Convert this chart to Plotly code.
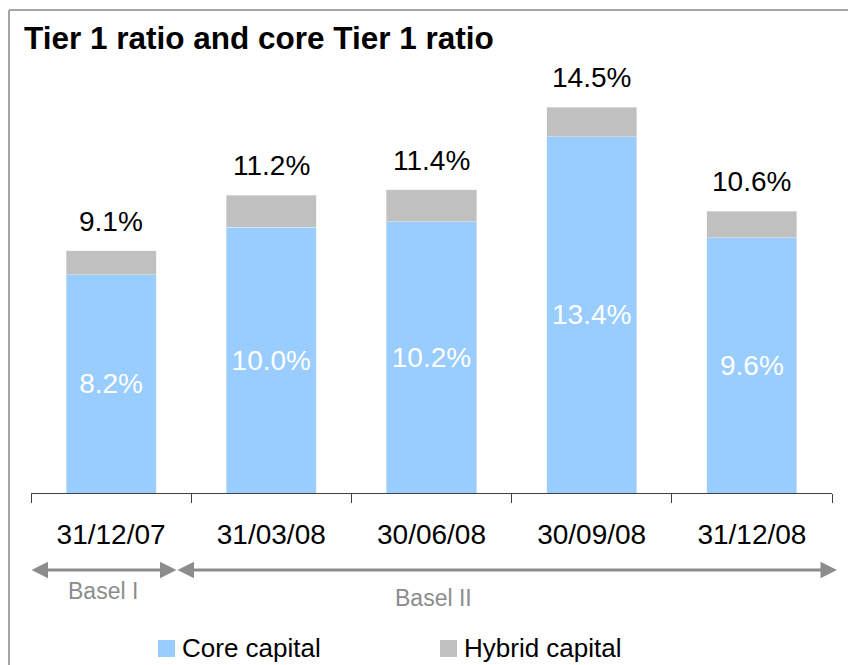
import plotly.graph_objects as go

# ---- data ----
dates = ["31/12/07", "31/03/08", "30/06/08", "30/09/08", "31/12/08"]
core_capital = [8.2, 10.0, 10.2, 13.4, 9.6]
hybrid_capital = [0.9, 1.2, 1.2, 1.1, 1.0]
tier1_ratio = [9.1, 11.2, 11.4, 14.5, 10.6]
core_labels = ["8.2%", "10.0%", "10.2%", "13.4%", "9.6%"]
tier1_labels = ["9.1%", "11.2%", "11.4%", "14.5%", "10.6%"]
series_names = ["Core capital", "Hybrid capital"]
regime_names = ["Basel I", "Basel II"]

# ---- style ----
W, H = 848, 665
ML, MR, MT, MB = 31, 16, 80, 172
PW, PH = W - ML - MR, H - MT - MB
YMAX = PH / 26.6
FONT = "Arial, Liberation Sans, sans-serif"
CORE_COL = "#99ccff"
HYB_COL = "#c0c0c0"
GREY = "#8c8c8c"


def px(x):
    return (x - ML) / PW


def py(y):
    return (H - MB - y) / PH


fig = go.Figure()
fig.add_trace(go.Bar(
    x=dates, y=core_capital, name=series_names[0], marker_color=CORE_COL,
    text=core_labels, textposition="inside", insidetextanchor="middle",
    textangle=0, constraintext="none",
    insidetextfont=dict(color="white", size=28, family=FONT),
    showlegend=False, hoverinfo="skip",
))
fig.add_trace(go.Bar(
    x=dates, y=hybrid_capital, name=series_names[1], marker_color=HYB_COL,
    showlegend=False, hoverinfo="skip",
))

annotations = []
for d, t, lab in zip(dates, tier1_ratio, tier1_labels):
    annotations.append(dict(x=d, y=t, xref="x", yref="y", text=lab,
                            showarrow=False, yanchor="bottom", yshift=12,
                            font=dict(size=28, color="black", family=FONT)))

# regime arrows
arrows = [(31, 176.5), (177, 837)]
for (x0, x1) in arrows:
    annotations.append(dict(x=px(x1), y=py(570), xref="paper", yref="paper",
                            ax=-(x1 - x0), ay=0, axref="pixel", ayref="pixel",
                            text="", showarrow=True, arrowside="end+start",
                            arrowhead=2, startarrowhead=2, arrowwidth=3,
                            arrowsize=1.1, startarrowsize=1.1, standoff=0,
                            startstandoff=0, arrowcolor=GREY,
                            font=dict(size=1), borderpad=0))
annotations.append(dict(x=px(102.5), y=py(591), xref="paper", yref="paper",
                        text=regime_names[0], showarrow=False,
                        xanchor="center", yanchor="middle",
                        font=dict(size=23, color=GREY, family=FONT)))
annotations.append(dict(x=px(433), y=py(598), xref="paper", yref="paper",
                        text=regime_names[1], showarrow=False,
                        xanchor="center", yanchor="middle",
                        font=dict(size=23, color=GREY, family=FONT)))

# manual legend
leg = [(158, series_names[0], CORE_COL), (440, series_names[1], HYB_COL)]
shapes = []
for x0, name, col in leg:
    shapes.append(dict(type="rect", xref="paper", yref="paper",
                       x0=px(x0), x1=px(x0 + 17), y0=py(657), y1=py(640),
                       fillcolor=col, line=dict(width=0)))
    annotations.append(dict(x=px(x0 + 22), y=py(648), xref="paper", yref="paper",
                            text=name, showarrow=False, xanchor="left",
                            yanchor="middle",
                            font=dict(size=26, color="black", family=FONT)))

# frame lines (top and left)
shapes.append(dict(type="line", xref="paper", yref="paper",
                   x0=px(9), x1=px(848), y0=py(10), y1=py(10),
                   line=dict(color="#a6a6a6", width=2)))
shapes.append(dict(type="line", xref="paper", yref="paper",
                   x0=px(9), x1=px(9), y0=py(10), y1=py(665),
                   line=dict(color="#a6a6a6", width=2)))

fig.update_layout(
    width=W, height=H,
    margin=dict(l=ML, r=MR, t=MT, b=MB, pad=0),
    barmode="stack", bargap=0.438,
    plot_bgcolor="white", paper_bgcolor="white",
    font=dict(family=FONT, color="black"),
    title=dict(text="<b>Tier 1 ratio and core Tier 1 ratio</b>",
               x=24 / W, xref="container", xanchor="left",
               y=1 - 38 / H, yref="container", yanchor="middle",
               font=dict(size=31.5, color="black", family=FONT)),
    xaxis=dict(type="category", range=[-0.5, 4.5], showline=True,
               linecolor="#404040", linewidth=1, ticks="outside",
               ticklen=9, tickcolor="#404040", tickwidth=1,
               tickson="boundaries", showgrid=False, zeroline=False,
               ticklabelstandoff=16,
               tickfont=dict(size=28, color="black", family=FONT)),
    yaxis=dict(range=[0, YMAX], visible=False, showgrid=False, zeroline=False),
    annotations=annotations, shapes=shapes,
    showlegend=False,
)

fig.write_html("out.html", config={"displayModeBar": False},
               post_script="document.body.style.margin='0px';document.body.style.overflow='hidden';")
